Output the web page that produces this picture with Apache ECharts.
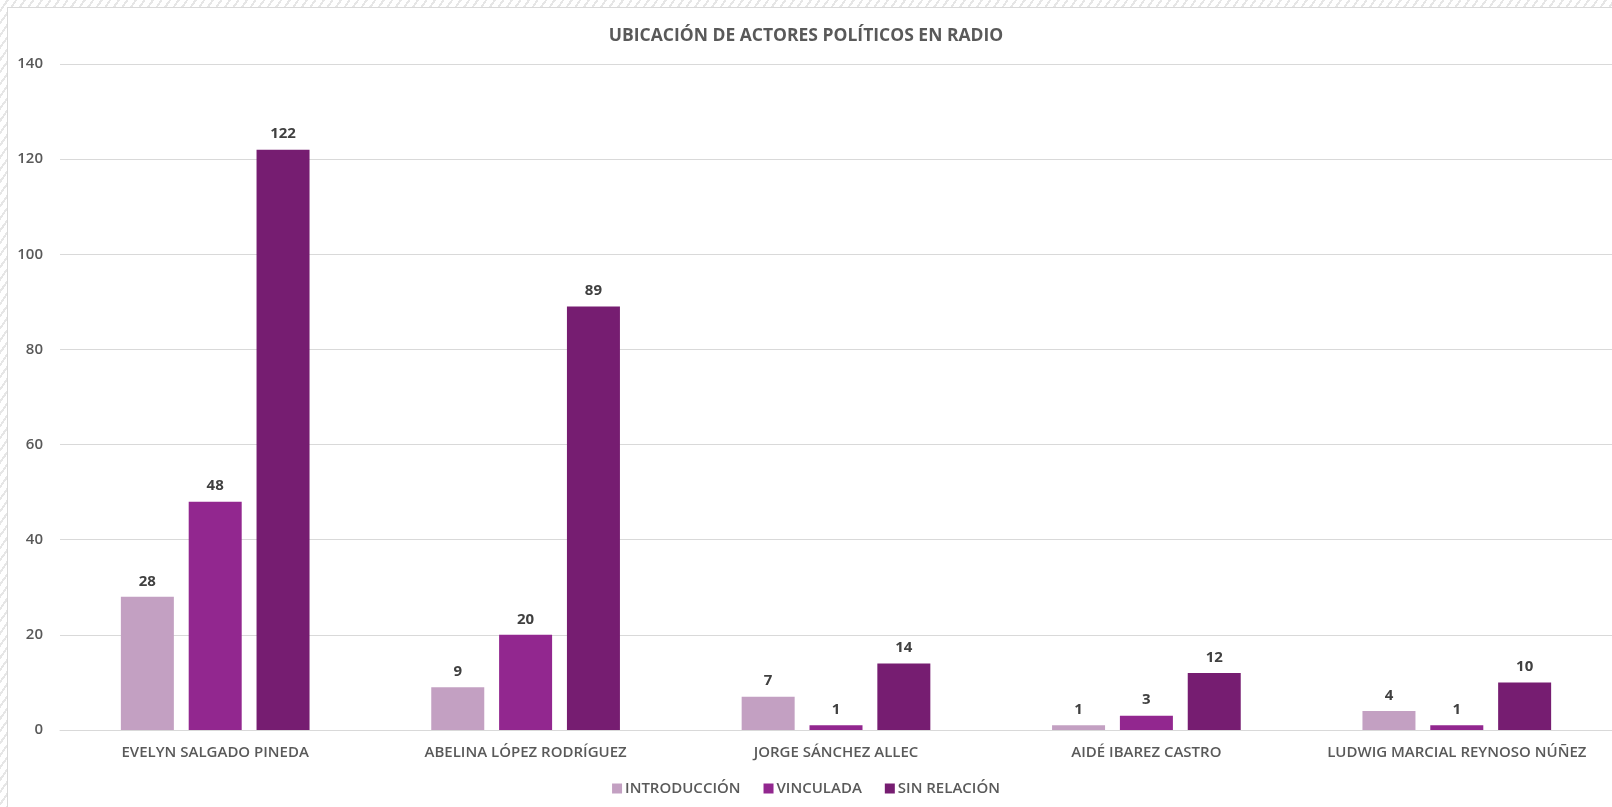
<!DOCTYPE html>
<html>
<head>
<meta charset="utf-8">
<script src="https://cdn.jsdelivr.net/npm/echarts@6/dist/echarts.min.js"></script>
<style>
  html, body { margin: 0; padding: 0; width: 1612px; height: 807px; overflow: hidden;
    background: repeating-linear-gradient(-55deg, #ffffff 0px, #ffffff 5px, #e6e6e6 5px, #e6e6e6 7px); }
  #frame { position: absolute; left: 7px; top: 7px; width: 1610px; height: 805px; background: #fff;
    border-left: 1px solid #d9d9d9; border-top: 1px solid #d9d9d9; }
  #chart { position: absolute; left: 0; top: 0; width: 1612px; height: 807px; }
</style>
</head>
<body>
<div id="frame"></div>
<div id="chart"></div>
<script>
const titleText = 'UBICACIÓN DE ACTORES POLÍTICOS EN RADIO';
const categories = ['EVELYN SALGADO PINEDA', 'ABELINA LÓPEZ RODRÍGUEZ', 'JORGE SÁNCHEZ ALLEC', 'AIDÉ IBAREZ CASTRO', 'LUDWIG MARCIAL REYNOSO NÚÑEZ'];
const seriesNames = ['INTRODUCCIÓN', 'VINCULADA', 'SIN RELACIÓN'];
const introduccion = [28, 9, 7, 1, 4];
const vinculada = [48, 20, 1, 3, 1];
const sinRelacion = [122, 89, 14, 12, 10];
const colors = ['#C3A0C2', '#92278F', '#761D71'];

const font = '"Open Sans", "Noto Sans", sans-serif';
const chart = echarts.init(document.getElementById('chart'), null, { renderer: 'canvas' });
const dataSets = [introduccion, vinculada, sinRelacion];
chart.setOption({
  backgroundColor: 'transparent',
  animation: false,
  color: colors,
  title: {
    text: titleText, left: 'center', top: 22,
    textStyle: { fontFamily: font, fontSize: 17.5, fontWeight: 'bold', color: '#595959' }
  },
  legend: {
    data: seriesNames, bottom: 6, left: 'center', itemWidth: 10, itemHeight: 10, itemGap: 23,
    icon: 'rect',
    textStyle: { fontFamily: font, fontSize: 15, color: '#595959', fontWeight: 600, padding: [0, 0, 0, -2] }
  },
  grid: { left: 60, right: 0, top: 64, bottom: 77, containLabel: false },
  xAxis: {
    type: 'category', data: categories,
    axisLine: { lineStyle: { color: '#d9d9d9', width: 1 } },
    axisTick: { show: false },
    axisLabel: { interval: 0, fontFamily: font, fontSize: 15, fontWeight: 600, color: '#595959', margin: 15 }
  },
  yAxis: {
    type: 'value', min: 0, max: 140, interval: 20,
    axisLine: { show: false }, axisTick: { show: false },
    splitLine: { lineStyle: { color: '#d9d9d9', width: 1 } },
    axisLabel: { fontFamily: font, fontSize: 15, fontWeight: 600, color: '#595959', margin: 17 }
  },
  series: seriesNames.map((n, i) => ({
    name: n, type: 'bar', data: dataSets[i], barWidth: 53, barGap: '28%',
    itemStyle: { color: colors[i] },
    label: { show: true, position: 'top', distance: 8, fontFamily: font, fontSize: 15, fontWeight: 'bold', color: '#404040' }
  }))
});
</script>
</body>
</html>
